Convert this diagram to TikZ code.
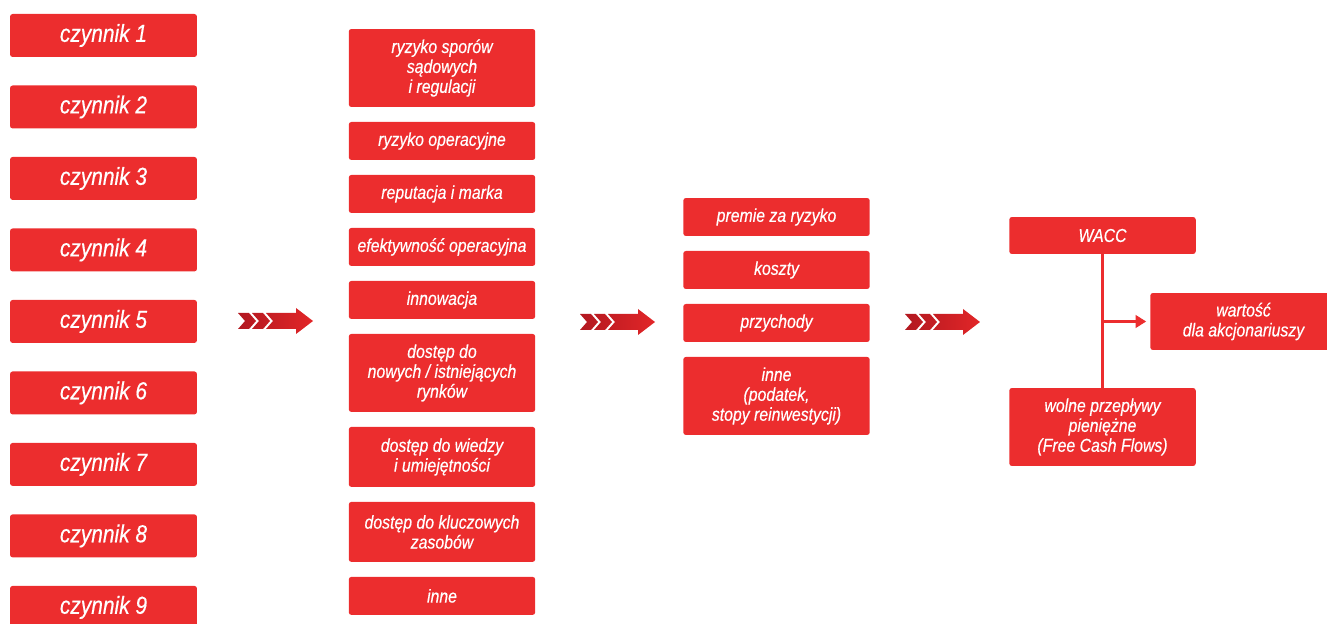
\documentclass[tikz,border=0pt]{standalone}
\usepackage{fontspec}
\setmainfont{Liberation Sans}[FakeStretch=0.85, FakeBold=0.4]
\usetikzlibrary{arrows.meta,positioning}
\definecolor{boxred}{RGB}{236,45,46}
\definecolor{arrdark}{RGB}{178,24,32}
\definecolor{arrlight}{RGB}{226,38,40}
\tikzset{
  factor/.style={fill=boxred, text=white, rounded corners=1.5pt, minimum width=3.74cm, minimum height=0.86cm, inner sep=1pt, outer sep=0pt, font=\itshape\fontsize{14}{15}\selectfont},
  item/.style={fill=boxred, text=white, rounded corners=1.5pt, minimum width=3.73cm, minimum height=0.76cm, inner sep=1pt, outer sep=0pt, align=center, font=\itshape\fontsize{10.6}{11.34}\selectfont},
  two/.style={minimum height=1.2cm},
  three/.style={minimum height=1.56cm},
  link/.style={draw=boxred, line width=1.7pt},
  chevrons/.pic={
    \shade[left color=arrdark, right color=arrlight]
      (0,-8) -- (11,-8) -- (18,0) -- (11,8) -- (0,8) -- (7,0) -- cycle
      (14,-8) -- (25,-8) -- (32,0) -- (25,8) -- (14,8) -- (21,0) -- cycle
      (28,-8) -- (58,-8) -- (58,-13) -- (75,0) -- (58,13) -- (58,8) -- (28,8) -- (35,0) -- cycle;
  }
}

\begin{document}
\begin{tikzpicture}[x=0.02cm, y=-0.02cm]
  \useasboundingbox (0,0) rectangle (1327,624);

  \node[factor] (f1) at (103.5,35.5) {czynnik 1};
  \node[factor, below=0.57cm of f1] (f2) {czynnik 2};
  \node[factor, below=0.57cm of f2] (f3) {czynnik 3};
  \node[factor, below=0.57cm of f3] (f4) {czynnik 4};
  \node[factor, below=0.57cm of f4] (f5) {czynnik 5};
  \node[factor, below=0.57cm of f5] (f6) {czynnik 6};
  \node[factor, below=0.57cm of f6] (f7) {czynnik 7};
  \node[factor, below=0.57cm of f7] (f8) {czynnik 8};
  \node[factor, below=0.57cm of f8] (f9) {czynnik 9};

  \node[item, three] (r1) at (442,68) {ryzyko sporów\\sądowych\\i regulacji};
  \node[item, below=0.3cm of r1] (r2) {ryzyko operacyjne};
  \node[item, below=0.3cm of r2] (r3) {reputacja i marka};
  \node[item, below=0.3cm of r3] (r4) {efektywność operacyjna};
  \node[item, below=0.3cm of r4] (r5) {innowacja};
  \node[item, three, below=0.3cm of r5] (r6) {dostęp do\\nowych / istniejących\\rynków};
  \node[item, two, below=0.3cm of r6] (r7) {dostęp do wiedzy\\i umiejętności};
  \node[item, two, below=0.3cm of r7] (r8) {dostęp do kluczowych\\zasobów};
  \node[item, below=0.3cm of r8] (r9) {inne};

  \node[item] (d1) at (776.5,217) {premie za ryzyko};
  \node[item, below=0.3cm of d1] (d2) {koszty};
  \node[item, below=0.3cm of d2] (d3) {przychody};
  \node[item, three, below=0.3cm of d3] (d4) {inne\\(podatek,\\stopy reinwestycji)};

  \node[item, minimum height=0.74cm] (wacc) at (1102.5,235.5) {WACC};
  \node[item, minimum height=1.14cm] (sv) at (1243.5,321.5) {wartość\\dla akcjonariuszy};
  \node[item, three] (fcf) at (1102.5,427) {wolne przepływy\\pieniężne\\(Free Cash Flows)};

  \pic at (238,321) {chevrons};
  \pic at (580,322) {chevrons};
  \pic at (905,322) {chevrons};

  \draw[link] (wacc) -- (fcf);
  \coordinate (j) at (wacc.south |- sv.west);
  \draw[link, -{Triangle[length=6pt,width=7pt]}, shorten >=2.3pt] (j) -- (sv);
\end{tikzpicture}
\end{document}
